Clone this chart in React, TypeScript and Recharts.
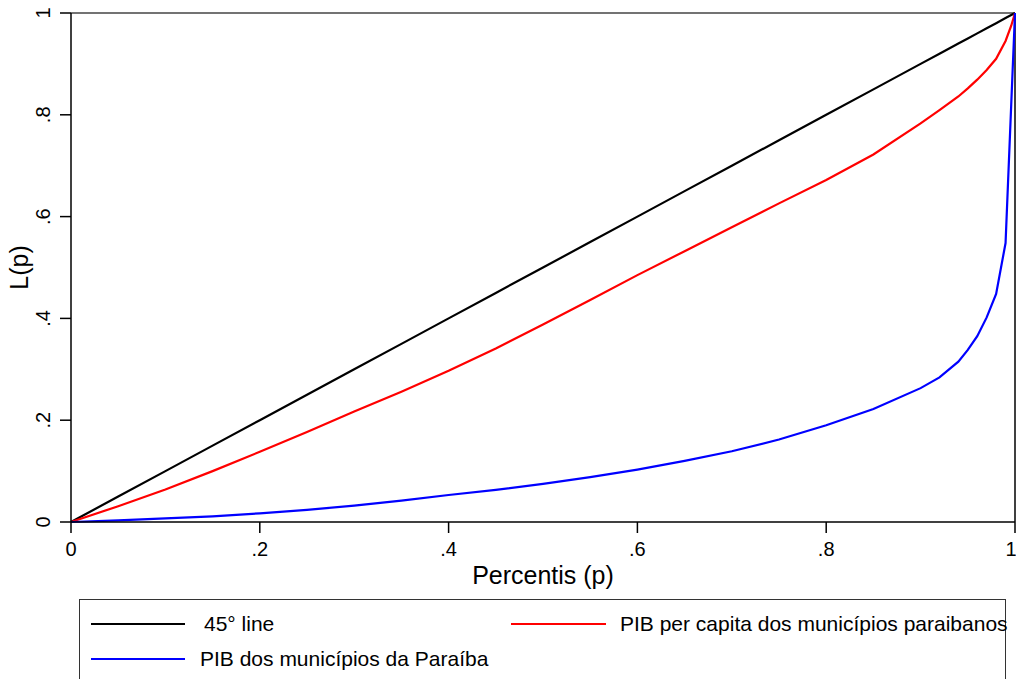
import { LineChart, Line, XAxis, YAxis, ReferenceLine, Legend, Label } from 'recharts'

const percentis = [0, 0.05, 0.1, 0.15, 0.2, 0.25, 0.3, 0.35, 0.4, 0.45, 0.5, 0.55, 0.6, 0.65, 0.7, 0.75, 0.8, 0.85, 0.9, 0.92, 0.94, 0.95, 0.96, 0.97, 0.98, 0.99, 0.996, 1]
const linha45 = [0, 0.05, 0.1, 0.15, 0.2, 0.25, 0.3, 0.35, 0.4, 0.45, 0.5, 0.55, 0.6, 0.65, 0.7, 0.75, 0.8, 0.85, 0.9, 0.92, 0.94, 0.95, 0.96, 0.97, 0.98, 0.99, 0.996, 1]
const pibPerCapita = [0, 0.031, 0.064, 0.1, 0.138, 0.177, 0.217, 0.256, 0.297, 0.341, 0.388, 0.436, 0.485, 0.532, 0.579, 0.626, 0.672, 0.722, 0.783, 0.809, 0.836, 0.852, 0.869, 0.888, 0.91, 0.945, 0.975, 1]
const pibMunicipios = [0, 0.003, 0.007, 0.011, 0.017, 0.024, 0.032, 0.042, 0.053, 0.063, 0.075, 0.088, 0.103, 0.12, 0.139, 0.162, 0.19, 0.222, 0.263, 0.284, 0.315, 0.338, 0.365, 0.402, 0.448, 0.548, 0.82, 1]

const ticks = [0, 0.2, 0.4, 0.6, 0.8, 1]
const tickLabels = ['0', '.2', '.4', '.6', '.8', '1']

const data = percentis.map((p, i) => ({
  p,
  linha45: linha45[i],
  perCapita: pibPerCapita[i],
  municipios: pibMunicipios[i],
}))

const font = '"Liberation Sans", Arial, Helvetica, sans-serif'
const fmt = (v: number) => tickLabels[ticks.indexOf(v)] ?? String(v)

const YTick = ({ x, y, payload }: any) => (
  <text transform={`translate(${x - 15}, ${y}) rotate(-90)`} textAnchor="middle" dy="0.36em"
    fontSize={20} fill="#000" fontFamily={font}>
    {fmt(payload.value)}
  </text>
)

const LegendBox = () => (
  <div style={{ position: 'relative', width: 927, height: 90, border: '1px solid #333', borderBottom: 'none', boxSizing: 'border-box', fontFamily: font, fontSize: 21, color: '#000' }}>
    <div style={{ position: 'absolute', left: 11, top: 23, width: 94, height: 2, background: '#000' }} />
    <span style={{ position: 'absolute', left: 124, top: 12, lineHeight: '24px', whiteSpace: 'nowrap' }}>45° line</span>
    <div style={{ position: 'absolute', left: 431, top: 23, width: 95, height: 2, background: '#ff0000' }} />
    <span style={{ position: 'absolute', left: 540, top: 12, lineHeight: '24px', whiteSpace: 'nowrap' }}>PIB per capita dos municípios paraibanos</span>
    <div style={{ position: 'absolute', left: 11, top: 58, width: 94, height: 2, background: '#0000ff' }} />
    <span style={{ position: 'absolute', left: 120, top: 47, lineHeight: '24px', whiteSpace: 'nowrap' }}>PIB dos municípios da Paraíba</span>
  </div>
)

export default function App() {
  return (
    <div style={{ position: 'absolute', left: 0, top: 0, width: 1016, height: 679, background: '#fff', fontFamily: font, overflow: 'hidden' }}>
      <LineChart width={1016} height={679} data={data} margin={{ top: 13, right: 1, left: 0, bottom: 4 }}>
        <XAxis dataKey="p" type="number" domain={[0, 1]} ticks={ticks} tickFormatter={fmt}
          height={63} tickSize={11} tickMargin={9} stroke="#000" strokeWidth={1.5}
          tick={{ fontSize: 20, fill: '#000', fontFamily: font }}>
          <Label content={({ viewBox }: any) => (
            <text x={viewBox.x + viewBox.width / 2} y={584} textAnchor="middle" fontSize={25} fill="#000" fontFamily={font}>
              Percentis (p)
            </text>
          )} />
        </XAxis>
        <YAxis type="number" domain={[0, 1]} ticks={ticks} width={71} tickSize={11}
          stroke="#000" strokeWidth={1.5} tick={<YTick />}>
          <Label content={({ viewBox }: any) => (
            <text transform={`translate(20, ${viewBox.y + viewBox.height / 2}) rotate(-90)`} textAnchor="middle" dy="0.3em"
              fontSize={25} fill="#000" fontFamily={font}>
              L(p)
            </text>
          )} />
        </YAxis>
        <ReferenceLine y={1} stroke="#444" strokeWidth={1.5} />
        <ReferenceLine x={1} stroke="#000" strokeWidth={1.5} />
        <Line dataKey="linha45" stroke="#000000" strokeWidth={2.2} dot={false} isAnimationActive={false} />
        <Line dataKey="perCapita" stroke="#ff0000" strokeWidth={2.2} dot={false} isAnimationActive={false} />
        <Line dataKey="municipios" stroke="#0000ff" strokeWidth={2.2} dot={false} isAnimationActive={false} />
        <Legend layout="vertical" align="center" verticalAlign="bottom" content={<LegendBox />}
          wrapperStyle={{ position: 'absolute', left: 79, top: 599, bottom: 'auto', width: 927, height: 90 }} />
      </LineChart>
    </div>
  )
}
